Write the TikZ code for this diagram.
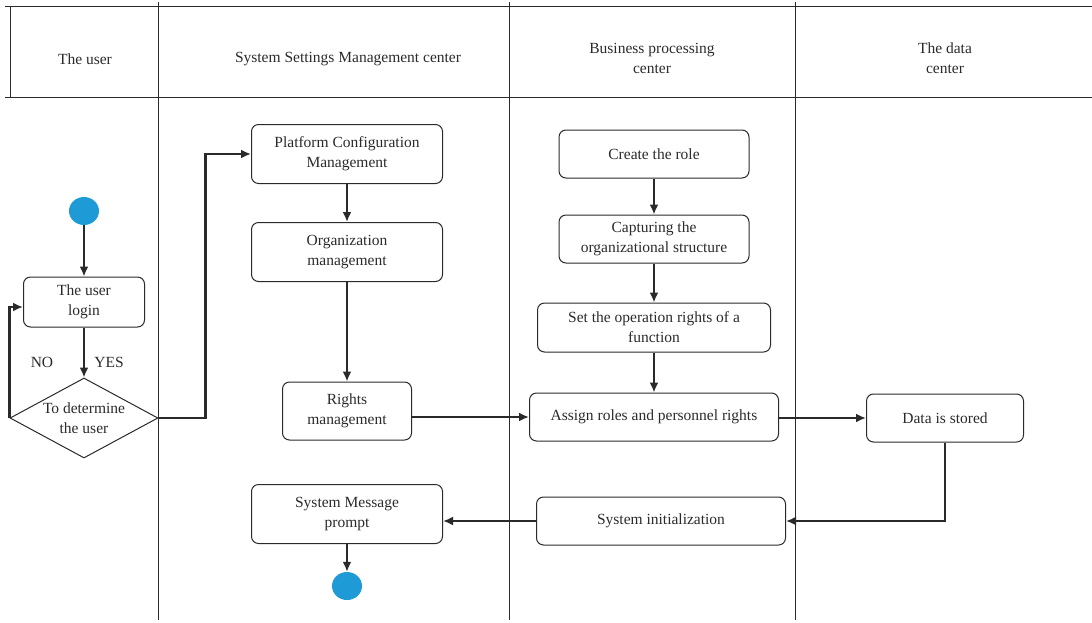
\documentclass[tikz,border=0pt]{standalone}
\usepackage{fontspec}
\setmainfont{Liberation Serif}
\usetikzlibrary{positioning,arrows.meta,shapes.geometric}

\definecolor{dotblue}{HTML}{1E9BD7}
\definecolor{ink}{HTML}{2A2A2A}

\tikzset{
  txt/.style={font=\fontsize{15.5}{20}\selectfont, text=ink, align=center},
  box/.style={txt, draw=ink, rounded corners=7pt, line width=1pt},
  decide/.style={txt, diamond, draw=ink, line width=1pt, aspect=1.85, inner sep=-6pt,
    minimum width=148pt, minimum height=80pt},
  dot/.style={ellipse, fill=dotblue, minimum width=30pt, minimum height=28pt, inner sep=0pt},
  flow/.style={draw=ink, line width=2.3pt, -{Latex[length=10pt,width=9pt]}},
  lane/.style={draw=ink, line width=0.9pt}
}

\begin{document}
\begin{tikzpicture}[x=1pt, y=-1pt, node distance=38pt]
\useasboundingbox (0,0) rectangle (1092,622);

\draw[lane] (5,6) -- (1092,6);
\draw[lane] (5,97) -- (1092,97);
\draw[lane] (10,6) -- (10,97);
\foreach \x in {158,509,795}
  \draw[lane] (\x,2) -- (\x,620);

\node[txt] (hUser) at (85,59)  {The user};
\node[txt] (hSys)  at (348,59) {System Settings Management center};
\node[txt] (hBiz)  at (652,58) {Business processing\\center};
\node[txt] (hData) at (945,58) {The data\\center};

\node[dot] (start) at (84,211) {};
\node[box, minimum width=121pt, minimum height=50pt] (login) at (84,302) {The user\\login};
\node[decide] (judge) at (84,418) {To determine\\the user};
\node[txt] (no)  at (42,362)  {NO};
\node[txt] (yes) at (109,362) {YES};

\node[box, minimum width=191pt, minimum height=59pt] (platform) at (347,154) {Platform Configuration\\Management};
\node[box, minimum width=191pt, minimum height=59pt] (org) [below=of platform] {Organization\\management};
\node[box, minimum width=129pt, minimum height=58pt] (rights) at (347,411) {Rights\\management};
\node[box, minimum width=191pt, minimum height=59pt] (message) at (347,514) {System Message\\prompt};
\node[dot] (finish) at (347,586) {};

\node[box, minimum width=190pt, minimum height=48pt] (create) at (654,154) {Create the role};
\node[box, minimum width=190pt, minimum height=48pt] (capture) [below=36pt of create] {Capturing the\\organizational structure};
\node[box, minimum width=233pt, minimum height=49pt] (setrights) [below=39pt of capture] {Set the operation rights of a\\function};
\node[box, minimum width=249pt, minimum height=48pt] (assign) [below=40pt of setrights] {Assign roles and personnel rights};
\node[box, minimum width=249pt, minimum height=48pt] (init) at (661,521) {System initialization};

\node[box, minimum width=157pt, minimum height=48pt] (data) at (945,418) {Data is stored};

\draw[flow] (start) -- (login);
\draw[flow] (login) -- (judge);
\draw[flow] (judge.west) |- ([yshift=-5pt]login.west);
\draw[flow] (judge.east) -- ++(47,0) |- (platform.west);
\draw[flow] (platform) -- (org);
\draw[flow] (org) -- (rights);
\draw[flow] (rights.east |- assign) -- (assign.west);
\draw[flow] (create) -- (capture);
\draw[flow] (capture) -- (setrights);
\draw[flow] (setrights) -- (assign);
\draw[flow] (assign.east |- data) -- (data.west);
\draw[flow] (data.south) |- (init.east);
\draw[flow] (init.west) -- (message.east |- init);
\draw[flow] (message) -- (finish);
\end{tikzpicture}
\end{document}
